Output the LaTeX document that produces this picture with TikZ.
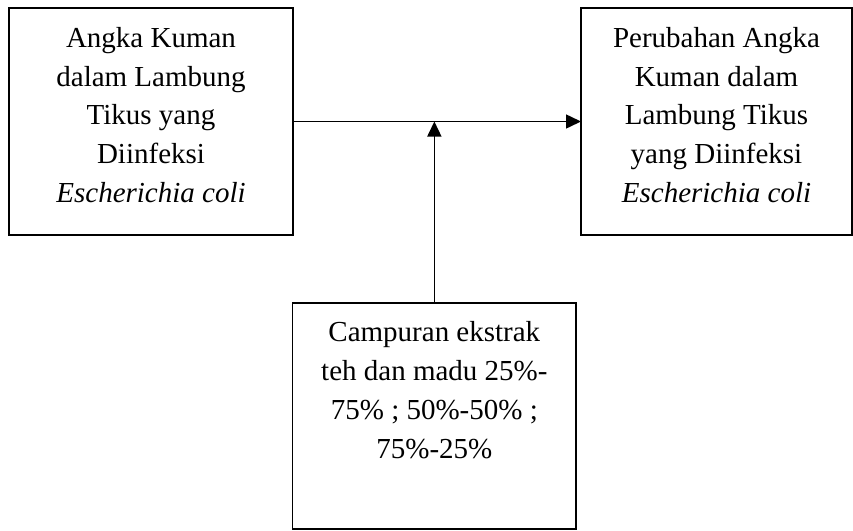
\documentclass[tikz,border=0pt]{standalone}
\usepackage{fontspec}
\setmainfont{Liberation Serif}
\usetikzlibrary{arrows.meta}
\begin{document}
\begin{tikzpicture}[x=1pt,y=-1pt,
  box/.style={draw=black,line width=1.5pt,inner sep=0pt,outer sep=0pt},
  txt/.style={anchor=north,align=center,inner sep=0pt,font=\fontsize{29}{38.7}\selectfont},
  conn/.style={line width=1.5pt,-{Triangle[length=15pt,width=14pt]}}]
\useasboundingbox (0,0) rectangle (853,530);
\node[box,minimum width=284pt,minimum height=227pt] (left) at (151,121.5) {};
\node[box,minimum width=271pt,minimum height=227pt] (right) at (716.5,121.5) {};
\node[box,minimum width=283.3pt,minimum height=226pt] (bottom) at (434.35,416) {};
\node[txt] (lefttxt) at ([yshift=-9.3pt]left.north) {\rule{0pt}{30pt}Angka Kuman\\dalam Lambung\\Tikus yang\\Diinfeksi\\\textit{Escherichia coli}};
\node[txt] (righttxt) at ([yshift=-9.3pt]right.north) {\rule{0pt}{30pt}Perubahan Angka\\Kuman dalam\\Lambung Tikus\\yang Diinfeksi\\\textit{Escherichia coli}};
\node[txt] (bottomtxt) at ([yshift=-8.7pt]bottom.north) {\rule{0pt}{30pt}Campuran ekstrak\\teh dan madu 25\%-\\75\% ; 50\%-50\% ;\\75\%-25\%};
\coordinate (join) at (bottom.north |- left.east);
\draw[conn] (left.east) -- (right.west);
\draw[conn] (bottom.north) -- (join);
\end{tikzpicture}
\end{document}
